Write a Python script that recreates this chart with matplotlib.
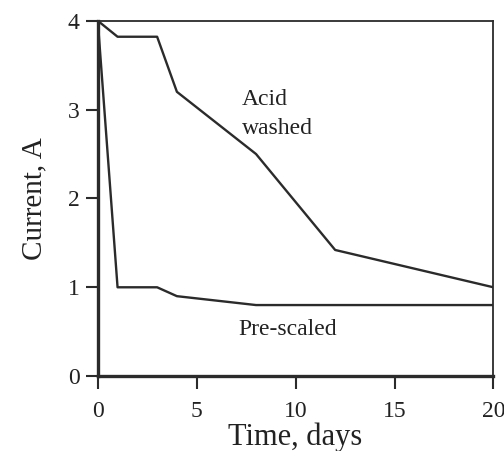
import matplotlib
matplotlib.use('Agg')
import matplotlib.pyplot as plt

plt.rcParams['font.family'] = ['Liberation Serif', 'DejaVu Serif']

# acid washed electrode
acid_days = [0, 1, 3, 4, 8, 12, 20]
acid_current = [4.0, 3.82, 3.82, 3.2, 2.5, 1.42, 1.0]

# pre-scaled electrode
pre_days = [0, 1, 3, 4, 8, 20]
pre_current = [4.0, 1.0, 1.0, 0.9, 0.8, 0.8]

xticks = [0, 5, 10, 15, 20]
yticks = [0, 1, 2, 3, 4]

fig = plt.figure(figsize=(5.04, 4.51), dpi=100)
ax = fig.add_axes([0.194, 0.166, 0.785, 0.788])

col = '#2b2b2b'
ax.plot(acid_days, acid_current, color=col, lw=1.7)
ax.plot(pre_days, pre_current, color=col, lw=1.7)

ax.set_xlim(0, 20)
ax.set_ylim(0, 4)
ax.set_xticks(xticks)
ax.set_yticks(yticks)
ax.tick_params(direction='out', length=9, width=1.5, color=col,
               labelsize=17, labelcolor='#222222')
ax.tick_params(axis='x', pad=9)
ax.tick_params(axis='y', pad=4)

for s in ['left', 'bottom']:
    ax.spines[s].set_linewidth(2.4)
    ax.spines[s].set_color(col)
for s in ['top', 'right']:
    ax.spines[s].set_linewidth(1.3)
    ax.spines[s].set_color(col)

ax.set_xlabel('Time, days', fontsize=22, color='#222222', labelpad=0)
ax.set_ylabel('Current, A', fontsize=21, color='#222222', labelpad=15)

ax.text(7.3, 2.95, 'Acid\nwashed', fontsize=17, color='#222222',
        ha='left', va='center', linespacing=1.45)
ax.text(7.1, 0.52, 'Pre-scaled', fontsize=17, color='#222222',
        ha='left', va='center')

fig.savefig('out.png', dpi=100)
